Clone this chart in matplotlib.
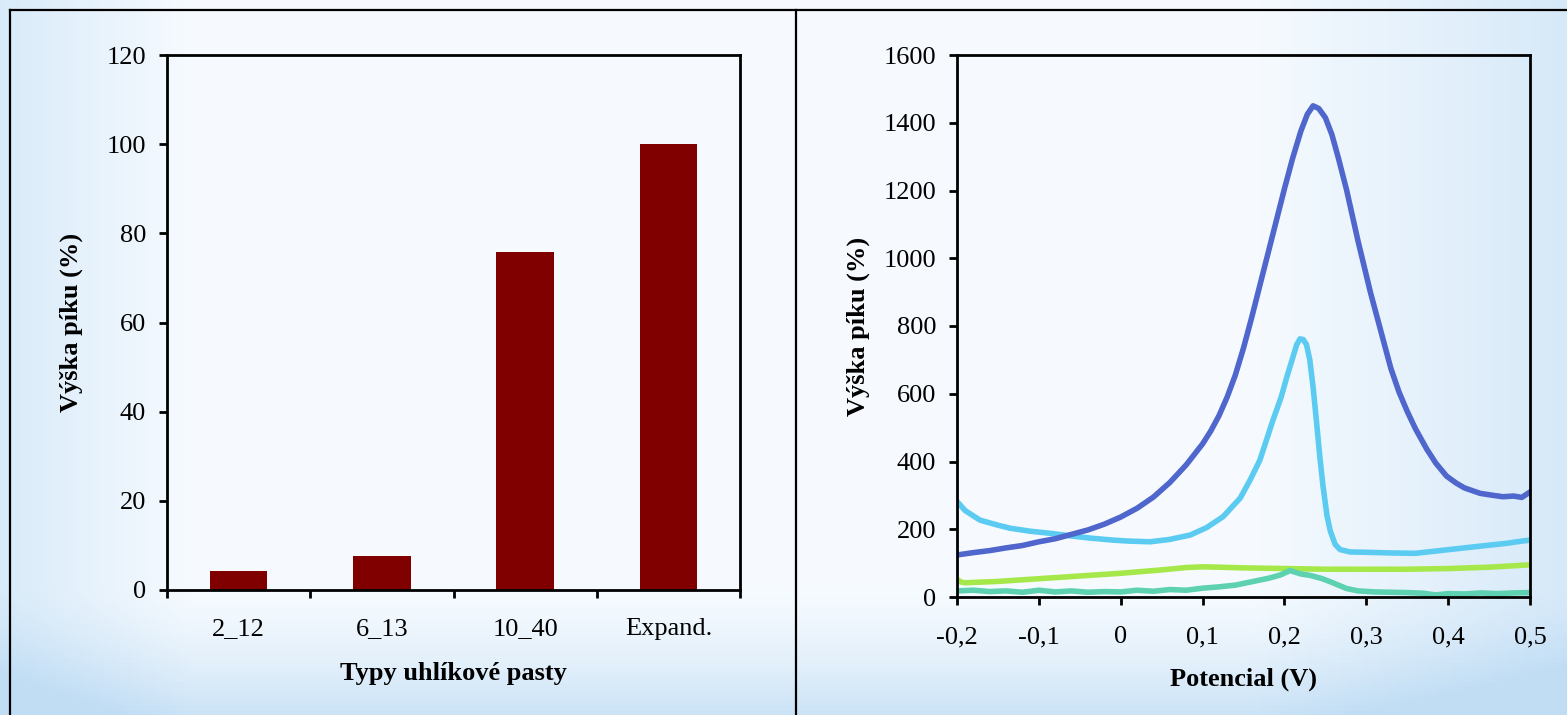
import matplotlib
matplotlib.use("Agg")
import matplotlib.pyplot as plt
import numpy as np
from matplotlib.lines import Line2D
from matplotlib.ticker import FuncFormatter

plt.rcParams['font.family'] = ['Liberation Serif', 'DejaVu Serif']

# bar chart data
categories = ['2_12', '6_13', '10_40', 'Expand.']
peak_height = [4.2, 7.7, 75.8, 100]

# voltammograms (potential in V, signal)
pot_blue = [-0.2, -0.18, -0.16, -0.14, -0.12, -0.1, -0.08, -0.06, -0.04, -0.02, 0.0,
            0.02, 0.04, 0.06, 0.08, 0.1, 0.11, 0.12, 0.13, 0.14, 0.15, 0.16, 0.17, 0.18,
            0.19, 0.2, 0.21, 0.22, 0.228, 0.235, 0.242, 0.25, 0.258, 0.266, 0.276, 0.29,
            0.305, 0.32, 0.33, 0.34, 0.35, 0.36, 0.374, 0.385, 0.398, 0.41, 0.42, 0.439,
            0.455, 0.467, 0.48, 0.49, 0.5]
sig_blue = [124, 131, 137, 145, 152, 163, 172, 185, 198, 215, 236,
            262, 295, 338, 390, 452, 490, 535, 590, 655, 735, 825, 920, 1015,
            1110, 1205, 1295, 1375, 1425, 1450, 1442, 1415, 1365, 1295, 1201, 1050,
            900, 765, 675, 605, 548, 497, 436, 395, 357, 336, 322, 306,
            300, 296, 298, 294, 310]

pot_cyan = [-0.2, -0.19, -0.172, -0.15, -0.135, -0.11, -0.086, -0.06, -0.0375, -0.01, 0.01,
            0.036, 0.06, 0.085, 0.105, 0.125, 0.146, 0.158, 0.17, 0.186, 0.196, 0.203,
            0.21, 0.215, 0.219, 0.223, 0.227, 0.231, 0.235, 0.239, 0.243, 0.247, 0.252,
            0.256, 0.262, 0.268, 0.28, 0.3, 0.33, 0.36, 0.39, 0.42, 0.45, 0.47, 0.49, 0.5]
sig_cyan = [282, 255, 227, 212, 203, 194, 188, 180, 174, 168, 165,
            163, 170, 183, 205, 237, 292, 345, 404, 522, 590, 650,
            705, 745, 762, 760, 745, 700, 620, 522, 420, 330, 240,
            195, 155, 140, 133, 132, 130, 129, 137, 145, 153, 158, 165, 168]

pot_lime = [-0.2, -0.195, -0.19, -0.15, -0.1, -0.05, 0.0, 0.05, 0.08, 0.1, 0.12,
            0.15, 0.2, 0.25, 0.3, 0.35, 0.4, 0.45, 0.5]
sig_lime = [52, 44, 42, 46, 54, 62, 70, 80, 87, 89, 88,
            86, 84, 82, 82, 82, 84, 88, 95]

pot_teal = [-0.2, -0.18, -0.16, -0.14, -0.12, -0.1, -0.08, -0.06, -0.04, -0.02, 0.0,
            0.02, 0.04, 0.06, 0.08, 0.1, 0.12, 0.14, 0.16, 0.18, 0.195, 0.207, 0.22,
            0.231, 0.245, 0.256, 0.266, 0.276, 0.29, 0.31, 0.33, 0.35, 0.37, 0.385,
            0.4, 0.42, 0.44, 0.46, 0.48, 0.5]
sig_teal = [18, 20, 16, 18, 14, 20, 15, 18, 14, 16, 15,
            20, 17, 22, 20, 26, 30, 35, 45, 55, 65, 78, 68,
            64, 55, 45, 35, 25, 18, 15, 14, 13, 11, 6,
            10, 9, 12, 10, 12, 13]

fig = plt.figure(figsize=(15.67, 7.15), dpi=100)

# slide-like light blue background
bg = fig.add_axes([0, 0, 1, 1], zorder=-10)
gx, gy = np.meshgrid(np.linspace(0, 1, 300), np.linspace(0, 1, 150))
shade = np.clip(0.55 * np.clip(1 - gx / 0.12, 0, 1) + 0.6 * np.clip((gx - 0.8) / 0.2, 0, 1)
                + 0.8 * np.clip((gy - 0.82) / 0.18, 0, 1) ** 1.5, 0, 1)
light = np.array([0.965, 0.982, 0.998])
blue = np.array([0.76, 0.87, 0.96])
img = light[None, None, :] * (1 - shade[..., None]) + blue[None, None, :] * shade[..., None]
bg.imshow(img, aspect='auto', extent=[0, 1, 1, 0])
bg.set_xlim(0, 1)
bg.set_ylim(1, 0)
bg.axis('off')

# outline of the two panels
W, H = 1567, 715
for (x0, y0, x1, y1) in [(10, 10, W, 10), (10, 10, 10, H), (796, 10, 796, H)]:
    fig.add_artist(Line2D([x0 / W, x1 / W], [1 - y0 / H, 1 - y1 / H], color='black', lw=1.6))

tick_kw = dict(direction='out', length=6, width=2, labelsize=19, colors='black')

# left: bar chart
ax1 = fig.add_axes([167 / W, 1 - 590 / H, (740 - 167) / W, (590 - 55) / H])
ax1.patch.set_alpha(0)
xpos = np.arange(len(categories))
ax1.bar(xpos, peak_height, width=0.4, color='#800000')
ax1.set_xlim(-0.5, len(categories) - 0.5)
ax1.set_ylim(0, 120)
ax1.set_yticks(np.arange(0, 121, 20))
ax1.set_xticks(np.arange(len(categories) + 1) - 0.5)
ax1.set_xticklabels([])
ax1.set_xticks(xpos, minor=True)
ax1.set_xticklabels(categories, minor=True)
ax1.tick_params(axis='both', which='major', pad=9, **tick_kw)
ax1.tick_params(axis='x', which='minor', length=0, labelsize=19, pad=20)
ax1.set_xlabel('Typy uhlíkové pasty', fontsize=19, fontweight='bold', labelpad=16)
ax1.set_ylabel('Výška píku (%)', fontsize=19, fontweight='bold', labelpad=17)
for s in ax1.spines.values():
    s.set_linewidth(2)

# right: voltammograms
ax2 = fig.add_axes([957 / W, 1 - 597 / H, (1530 - 957) / W, (597 - 55) / H])
ax2.patch.set_alpha(0)
lw = 4
ax2.plot(pot_lime, sig_lime, color='#A6E84A', lw=lw, solid_capstyle='round', solid_joinstyle='round')
ax2.plot(pot_teal, sig_teal, color='#5DD1B0', lw=lw, solid_capstyle='round', solid_joinstyle='round')
ax2.plot(pot_cyan, sig_cyan, color='#5BCBF2', lw=lw, solid_capstyle='round', solid_joinstyle='round')
ax2.plot(pot_blue, sig_blue, color='#4F66CC', lw=lw, solid_capstyle='round', solid_joinstyle='round')
ax2.set_xlim(-0.2, 0.5)
ax2.set_ylim(0, 1600)
ax2.set_xticks(np.round(np.arange(-0.2, 0.51, 0.1), 1))
ax2.set_yticks(np.arange(0, 1601, 200))
ax2.xaxis.set_major_formatter(FuncFormatter(lambda v, p: f'{v:g}'.replace('.', ',')))
ax2.tick_params(axis='both', which='major', pad=9, **tick_kw)
ax2.tick_params(axis='x', which='major', pad=15)
ax2.set_xlabel('Potencial (V)', fontsize=19, fontweight='bold', labelpad=14)
ax2.set_ylabel('Výška píku (%)', fontsize=19, fontweight='bold', labelpad=10)
for s in ax2.spines.values():
    s.set_linewidth(2)

fig.savefig('out.png', dpi=100)
